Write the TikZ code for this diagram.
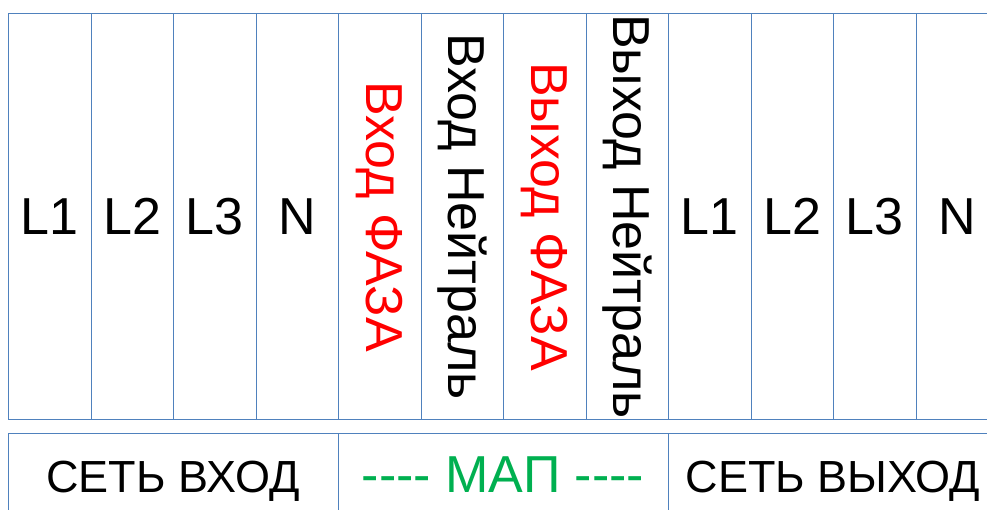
\documentclass[tikz,border=0pt]{standalone}
\usepackage{fontspec}
\setmainfont{Liberation Sans}
\definecolor{gridblue}{HTML}{4F81BD}
\definecolor{phasered}{HTML}{FF0000}
\definecolor{mapgreen}{HTML}{00B050}
\tikzset{
    cell/.style={draw=gridblue, line width=1.1pt, inner sep=0pt, anchor=north west},
    bigtext/.style={font=\fontsize{52}{60}\selectfont, inner sep=0pt},
    zonetext/.style={font=\fontsize{45}{54}\selectfont, inner sep=0pt, anchor=base}
}
\begin{document}
\begin{tikzpicture}[x=1pt,y=-1pt]
            \useasboundingbox (0,0) rectangle (987,510);
            \foreach \i/\txt/\clr/\rot in {0/L1/black/0,1/L2/black/0,2/L3/black/0,3/N/black/0,
                4/Вход ФАЗА/phasered/-90,5/Вход Нейтраль/black/-90,6/Выход ФАЗА/phasered/-90,7/Выход Нейтраль/black/-90,
                8/L1/black/0,9/L2/black/0,10/L3/black/0,11/N/black/0} {
                \node[cell, minimum width=82.5pt, minimum height=406pt] (col\i) at ({8+82.5*\i},13) {};
                \node[bigtext, text=\clr, rotate=\rot] (lbl\i) at (col\i.center) {\txt};
            }
            \foreach \i/\txt/\clr/\fs in {0/СЕТЬ ВХОД/black/45,1/-{}-{}-{}- МАП -{}-{}-{}-/mapgreen/52,2/СЕТЬ ВЫХОД/black/45} {
                \node[cell, minimum width=330pt, minimum height=110pt] (zone\i) at ({8+330*\i},433) {};
                \node[zonetext, text=\clr, font=\fontsize{\fs}{60}\selectfont] (zlbl\i) at ({173+330*\i},492) {\txt};
            }
        \end{tikzpicture}
\end{document}
